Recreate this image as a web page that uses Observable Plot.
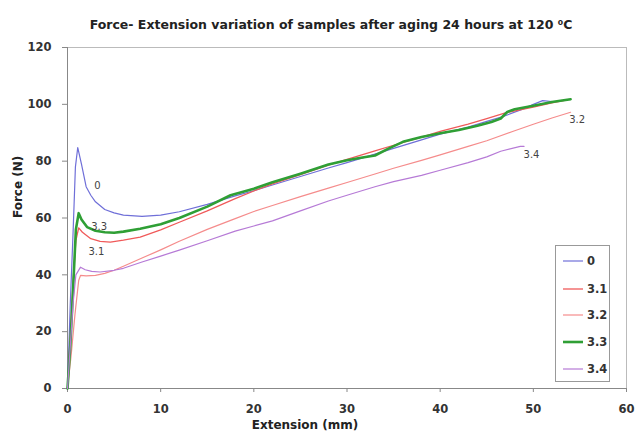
<!DOCTYPE html>
<html>
<head>
<meta charset="utf-8">
<script src="https://cdn.jsdelivr.net/npm/d3@7"></script>
<script src="https://cdn.jsdelivr.net/npm/@observablehq/plot@0.6"></script>
<style>
  html, body { margin: 0; padding: 0; background: #fff; }
  #wrap { position: relative; width: 635px; height: 433px; }
  #legend { position: absolute; left: 555px; top: 245px; width: 55px; height: 137px;
    border: 1px solid #999; background: #fff; box-sizing: border-box;
    font-family: "DejaVu Sans", sans-serif; font-weight: bold; font-size: 11.5px; color: #333; }
  .row { position: absolute; left: 7px; height: 12px; display: flex; align-items: center; }
  .row svg { margin-right: 4px; }
</style>
</head>
<body>
<div id="wrap"><div id="legend"></div></div>
<script>
const title = "Force- Extension variation of samples after aging 24 hours at 120 \u2070C";
const xLabel = "Extension (mm)";
const yLabel = "Force (N)";
const xTicks = [0, 10, 20, 30, 40, 50, 60];
const yTicks = [0, 20, 40, 60, 80, 100, 120];

const seriesNames = ["0", "3.1", "3.2", "3.3", "3.4"];
const seriesColors = ["#6f6fd8", "#f05a5a", "#f58c8c", "#2f9f35", "#b67ad6"];
const seriesWidths = [1.2, 1.3, 1.2, 2.6, 1.2];

const x0 = [0, 0.3, 0.6, 0.85, 1.1, 1.5, 2, 2.5, 3, 4, 5, 6, 8, 10, 12, 15, 18, 20, 22, 25, 28, 30, 33, 35, 38, 40, 43, 45, 47, 49, 50, 51, 52];
const y0 = [0, 30, 55, 78, 84.8, 79, 71, 68, 65.7, 63, 61.8, 61, 60.6, 61, 62.2, 64.8, 67.8, 69.6, 71.6, 74.6, 77.6, 79.5, 82.5, 84.5, 87.5, 89.5, 92, 94, 96, 98.5, 100, 101.3, 101];

const x31 = [0, 0.3, 0.6, 0.9, 1.2, 1.6, 2.5, 3.5, 4.6, 6, 7.8, 10, 12, 15, 18, 20, 22, 25, 28, 30, 33, 35, 38, 40, 43, 45, 47, 50, 52, 53.5];
const y31 = [0, 18, 38, 52, 56.5, 55, 52.7, 51.8, 51.5, 52.2, 53.3, 55.8, 58.5, 62.5, 66.8, 69.5, 72, 75.3, 78.6, 80.6, 83.6, 85.6, 88.5, 90.5, 93, 95, 97, 99, 100.5, 101.5];

const x32 = [0, 0.4, 0.8, 1.2, 1.4, 2, 3, 4, 5, 6, 8, 10, 12, 15, 18, 20, 22, 25, 28, 30, 33, 35, 38, 40, 43, 45, 48, 50, 52, 54];
const y32 = [0, 12, 26, 38, 39.8, 39.6, 39.8, 40.5, 41.6, 43, 45.9, 48.8, 51.8, 56, 59.8, 62.3, 64.4, 67.5, 70.5, 72.5, 75.5, 77.5, 80.3, 82.2, 85.2, 87.2, 90.7, 93, 95.2, 97.2];

const x33 = [0, 0.3, 0.6, 0.9, 1.2, 1.5, 2.1, 3, 4, 5, 6, 7.8, 10, 12, 15, 17.5, 20, 22, 25, 28, 30, 31.5, 33, 34.5, 36, 38, 40, 42, 44, 45.5, 46.5, 47.2, 48, 50, 52, 54];
const y33 = [0, 15, 35, 56, 61.7, 59.5, 56.8, 55.5, 55, 54.8, 55.2, 56.2, 57.8, 60, 64, 68, 70.3, 72.6, 75.6, 78.8, 80.3, 81.2, 82, 84.5, 86.8, 88.5, 89.8, 91, 92.5, 93.8, 95, 97.3, 98.3, 99.5, 100.8, 101.8];

const x34 = [0, 0.3, 0.6, 0.9, 1.4, 1.9, 2.6, 3.5, 5, 6, 8, 10, 12, 15, 18, 20, 22, 25, 28, 30, 33, 35, 38, 40, 43, 45, 46.5, 48.6, 49];
const y34 = [0, 15, 30, 40, 42.7, 41.8, 41.2, 41, 41.6, 42.3, 44.5, 46.6, 48.7, 52, 55.4, 57.2, 59, 62.5, 66, 68, 71, 72.8, 75, 76.8, 79.5, 81.5, 83.5, 85.2, 85.2];

const labelNames = ["0", "3.3", "3.1", "3.2", "3.4"];
const labelX = [3.2, 3.4, 3.1, 54.7, 49.8];
const labelY = [71.5, 57, 48.2, 94.4, 82.4];

const xs = [x0, x31, x32, x33, x34];
const ys = [y0, y31, y32, y33, y34];
const data = seriesNames.map((name, i) => xs[i].map((x, j) => ({series: name, x, y: ys[i][j]})));
const labels = labelNames.map((t, i) => ({t, x: labelX[i], y: labelY[i]}));

const lineMarks = data.map((d, i) => Plot.line(d, {x: "x", y: "y", stroke: seriesColors[i], strokeWidth: seriesWidths[i], strokeLinejoin: "round"}));

const chart = Plot.plot({
  width: 635, height: 433,
  marginLeft: 67, marginRight: 9, marginTop: 47, marginBottom: 45,
  style: {fontFamily: "DejaVu Sans, sans-serif", fontSize: "11.5px", fontWeight: "bold", color: "#333", background: "#fff"},
  x: {domain: [0, 60], ticks: xTicks, label: null},
  y: {domain: [0, 120], ticks: yTicks, label: null},
  marks: [
    Plot.ruleY([120], {stroke: "#bbb", strokeWidth: 1}),
    Plot.ruleX([60], {stroke: "#bbb", strokeWidth: 1}),
    Plot.axisX({ticks: xTicks, tickSize: 4, tickPadding: 12, stroke: "#888", label: null}),
    Plot.axisY({ticks: yTicks, tickSize: 5, tickPadding: 11, stroke: "#888", label: null}),
    Plot.ruleY([0], {stroke: "#888"}),
    Plot.ruleX([0], {stroke: "#888"}),
    ...lineMarks,
    Plot.text(labels, {x: "x", y: "y", text: "t", fontWeight: "normal", fontSize: 10, fill: "#444"}),
    Plot.text([title], {frameAnchor: "top", dx: -16, dy: -27, fontSize: 12.5, fill: "#222"}),
    Plot.text([xLabel], {frameAnchor: "bottom", dx: -42, dy: 40, fontSize: 12, fill: "#222"}),
    Plot.text([yLabel], {frameAnchor: "left", dx: -49, rotate: -90, fontSize: 12, fill: "#222"})
  ]
});
document.getElementById("wrap").prepend(chart);

const legend = document.getElementById("legend");
const rowTops = [9, 37, 63, 90, 117];
seriesNames.forEach((name, i) => {
  const row = document.createElement("div");
  row.className = "row";
  row.style.top = rowTops[i] + "px";
  row.innerHTML = `<svg width="20" height="12"><line x1="0" x2="20" y1="6" y2="6" stroke="${seriesColors[i]}" stroke-width="${seriesWidths[i]}"/></svg><span>${name}</span>`;
  legend.appendChild(row);
});
</script>
</body>
</html>
